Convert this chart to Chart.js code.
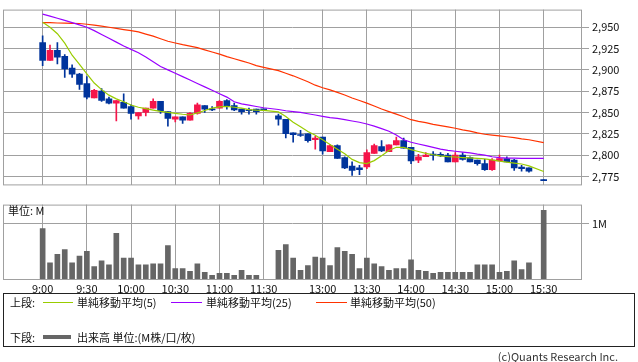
<!DOCTYPE html>
<html><head><meta charset="utf-8">
<script src="https://cdn.jsdelivr.net/npm/chart.js@4.4.1/dist/chart.umd.min.js"></script>
<style>
html,body{margin:0;padding:0;background:#fff;width:638px;height:362px;overflow:hidden;font-family:"Noto Sans CJK JP",sans-serif;}
#wrap{position:relative;width:638px;height:362px;}
canvas{position:absolute;left:0;}
#c1{top:0}
#c2{top:195px}
.t{position:absolute;font-size:11px;line-height:13px;color:#111;white-space:nowrap;}
#legend{position:absolute;left:3px;top:293px;width:630px;height:52px;border:1px solid #222;}
.ln{position:absolute;height:1px;}
</style></head>
<body><div id="wrap">
<canvas id="c1" width="638" height="195"></canvas>
<canvas id="c2" width="638" height="100"></canvas>
<div class="t" style="left:8px;top:204px;">単位: M</div>
<div id="legend"></div>
<div class="t" style="left:10px;top:296px;">上段:</div>
<div class="ln" style="left:43px;top:302px;width:30px;background:#99cc00;"></div>
<div class="t" style="left:77px;top:296px;">単純移動平均(5)</div>
<div class="ln" style="left:171px;top:302px;width:31px;background:#9900ff;"></div>
<div class="t" style="left:206px;top:296px;">単純移動平均(25)</div>
<div class="ln" style="left:316px;top:302px;width:31px;background:#ff3300;"></div>
<div class="t" style="left:350px;top:296px;">単純移動平均(50)</div>
<div class="t" style="left:10px;top:331px;">下段:</div>
<div class="ln" style="left:43px;top:335px;width:28px;height:4px;background:#666;"></div>
<div class="t" style="left:77px;top:331px;">出来高 単位:(M株/口/枚)</div>
<div class="t" style="right:20px;top:350px;color:#333;">(c)Quants Research Inc.</div>
</div>
<script>
const times = ['9:00','9:05','9:10','9:15','9:20','9:25','9:30','9:35','9:40','9:45','9:50','9:55',
 '10:00','10:05','10:10','10:15','10:20','10:25','10:30','10:35','10:40','10:45','10:50','10:55',
 '11:00','11:05','11:10','11:15','11:20','11:25','11:30',
 '12:30','12:35','12:40','12:45','12:50','12:55','13:00','13:05','13:10','13:15','13:20','13:25',
 '13:30','13:35','13:40','13:45','13:50','13:55','14:00','14:05','14:10','14:15','14:20','14:25',
 '14:30','14:35','14:40','14:45','14:50','14:55','15:00','15:05','15:10','15:15','15:20','15:30'];
const open  = [2932,2911,2923,2916,2902,2895,2884,2867,2875,2866,2861,2862,2857,2846,2850,2855,2863,2851,2842,2845,2841,2849,2858,2854,2855,2864,2858,2854,2852,2854,2854,
 2846,2842,2826,2824,2825,2818,2821,2804,2811,2797,2787,2785,2786,2802,2810,2804,2812,2817,2809,2794,2798,2801,2801,2800,2792,2800,2797,2794,2790,2783,2793,2796,2794,2786,2785,2770];
const high  = [2940,2929,2932,2918,2906,2896,2892,2877,2878,2868,2864,2872,2859,2850,2855,2866,2863,2851,2845,2845,2850,2861,2858,2857,2864,2865,2861,2854,2855,2854,2854,
 2848,2842,2826,2829,2825,2822,2821,2812,2812,2798,2792,2788,2806,2813,2817,2812,2821,2820,2809,2801,2803,2804,2803,2802,2803,2803,2798,2794,2795,2796,2800,2798,2795,2788,2785,2770];
const low   = [2905,2911,2907,2891,2891,2877,2866,2867,2863,2860,2840,2855,2842,2842,2846,2855,2849,2834,2839,2837,2841,2848,2850,2852,2855,2854,2852,2848,2848,2848,2852,
 2835,2820,2815,2822,2815,2807,2801,2804,2796,2784,2776,2777,2784,2802,2804,2804,2812,2808,2790,2791,2798,2794,2798,2792,2792,2794,2792,2788,2782,2782,2793,2792,2782,2781,2780,2770];
const close = [2911,2923,2915,2901,2895,2883,2868,2876,2864,2861,2864,2855,2849,2850,2855,2863,2852,2843,2845,2841,2849,2859,2854,2853,2863,2858,2853,2851,2852,2851,2853,
 2842,2825,2824,2823,2817,2820,2805,2811,2796,2785,2782,2783,2803,2811,2805,2812,2817,2808,2793,2798,2800,2800,2799,2792,2800,2795,2792,2790,2783,2794,2796,2792,2785,2784,2781,2770];
const sma5  = [2955.8,2950,2942.4,2931.4,2917.2,2906.3,2895.4,2884.5,2876.8,2870.3,2865.9,2862.6,2858.8,2856.1,2854.5,2852.8,2851.2,2850.1,2849,2847.9,2847,2849.5,2852.3,2855,2856.6,2857.2,2856.1,2855,2853.4,2852.8,2852.5,
 2850.6,2845.2,2838.6,2833.2,2827.7,2823.3,2817.9,2812.4,2806.9,2801.5,2794.9,2791.1,2790,2793.5,2799.3,2805.3,2809.1,2809.1,2806.4,2804.2,2802,2800.4,2799,2798.2,2797.7,2797.1,2796.6,2796,2795.5,2794.4,2792.8,2791.7,2790.6,2789.5,2787.3,2780.7];
const sma25 = [2965.3,2963,2960.5,2958,2955.5,2952.8,2950,2946,2941.5,2937,2932.5,2928,2924,2920,2915,2909.5,2904,2900,2896,2892,2888,2884,2880,2876,2872,2868,2862.5,2860,2858.5,2857,2855.5,
 2853.5,2852,2851,2850,2848.5,2847,2845.5,2844,2843,2841.5,2840,2838.5,2836.5,2834,2831,2828,2823.5,2818,2815,2813,2811,2809,2807,2805.5,2804.5,2803.5,2802.5,2801,2800,2798,2797,2796.5,2796.3,2796.2,2796,2796];
const sma50 = [2955.5,2955.3,2955,2954.8,2954.6,2954.4,2953.5,2952.5,2951.3,2950,2948.7,2947.3,2946,2944.5,2942,2939.5,2936.5,2933.6,2931.5,2929.5,2927.8,2926,2923.5,2921,2918.5,2915.5,2913,2910.5,2908,2905,2903,
 2899,2896,2893,2889.5,2886,2882,2879,2876.5,2873.6,2870.5,2867,2864,2861,2857.5,2854,2851,2848,2845,2841.5,2839.5,2838,2836,2834.5,2833,2831.5,2829.5,2828,2826,2824.4,2823.5,2822.5,2821.5,2820.5,2819,2818,2814.6];
const volume = [0.915,0.305,0.458,0.542,0.305,0.424,0.508,0.237,0.339,0.271,0.83,0.39,0.39,0.271,0.271,0.288,0.288,0.61,0.203,0.203,0.153,0.288,0.136,0.085,0.119,0.119,0.085,0.17,0.085,0.085,0.01,
 0.525,0.627,0.39,0.17,0.254,0.407,0.39,0.254,0.576,0.508,0.458,0.203,0.39,0.288,0.237,0.17,0.203,0.203,0.356,0.17,0.153,0.119,0.136,0.136,0.136,0.136,0.136,0.271,0.271,0.271,0.136,0.153,0.339,0.186,0.305,1.237];
const timeTicks = ['9:00','9:30','10:00','10:30','11:00','11:30','13:00','13:30','14:00','14:30','15:00','15:30'];
const priceTicks = [2775,2800,2825,2850,2875,2900,2925,2950];
const volumeTicks = [1];

function slotOf(t){const p=t.split(':').map(Number);const m=(p[0]-9)*60+p[1];return m<=150?m/5:32+(m-210)/5;}
const xs = times.map(slotOf);
const tickSlots = timeTicks.map(slotOf);
const slotLabel = {}; timeTicks.forEach(t=>{slotLabel[slotOf(t)]=t;});

const RED='#f5154a', BLUE='#00349c', GRID='#a0a0a0';
const XMIN=-5.38, XMAX=73.2;
Chart.defaults.font.family='"Noto Sans CJK JP", sans-serif';
Chart.defaults.font.size=11;
Chart.defaults.color='#111';

const candleColor = c => close[c.dataIndex] > open[c.dataIndex] ? RED : BLUE;
const frame = {id:'frame', afterDraw(chart){const {ctx, chartArea:a}=chart;ctx.save();ctx.strokeStyle=GRID;ctx.lineWidth=1;ctx.strokeRect(a.left+0.5,a.top+0.5,a.right-a.left-1,a.bottom-a.top-1);ctx.restore();}};

const xBase = {type:'linear', min:XMIN, max:XMAX, offset:false,
  afterBuildTicks: s => { s.ticks = tickSlots.map(v=>({value:v})); },
  grid:{color:GRID, lineWidth:1, offset:false, drawTicks:false}, border:{display:false}};

new Chart(document.getElementById('c1'), {
  type:'bar',
  data:{datasets:[
    {type:'line', data: xs.map((x,i)=>({x, y:sma5[i]})), borderColor:'#99cc00', borderWidth:1.2, pointRadius:0, order:0},
    {type:'line', data: xs.map((x,i)=>({x, y:sma25[i]})), borderColor:'#9900ff', borderWidth:1.2, pointRadius:0, order:0},
    {type:'line', data: xs.map((x,i)=>({x, y:sma50[i]})), borderColor:'#ff3300', borderWidth:1.2, pointRadius:0, order:0},
    {type:'bar', data: xs.map((x,i)=>({x, y:[open[i], close[i]]})), backgroundColor:candleColor, barThickness:6, minBarLength:1, grouped:false, order:1},
    {type:'bar', data: xs.map((x,i)=>({x, y:[low[i], high[i]]})), backgroundColor:candleColor, barThickness:1, minBarLength:1, grouped:false, order:2}
  ]},
  options:{responsive:false, animation:false, devicePixelRatio:1,
    layout:{padding:{left:3, top:1, right:0, bottom:5}},
    plugins:{legend:{display:false}, tooltip:{enabled:false}},
    scales:{
      x: Object.assign({}, xBase, {ticks:{display:false}, afterFit: s=>{s.height=0;}}),
      y: {position:'right', min:2764.4, max:2970.7,
        afterBuildTicks: s => { s.ticks = priceTicks.map(v=>({value:v})); },
        ticks:{callback: v => v.toLocaleString('en-US'), padding:3, color:'#111'},
        grid:{color:GRID, tickLength:7}, border:{display:false},
        afterFit: s=>{s.width=56;}}
    }},
  plugins:[frame]
});

new Chart(document.getElementById('c2'), {
  type:'bar',
  data:{datasets:[
    {data: xs.map((x,i)=>({x, y:volume[i]})), backgroundColor:'#666666', barThickness:5}
  ]},
  options:{responsive:false, animation:false, devicePixelRatio:1,
    layout:{padding:{left:3, top:6, right:0, bottom:0}},
    plugins:{legend:{display:false}, tooltip:{enabled:false}},
    scales:{
      x: Object.assign({}, xBase, {ticks:{autoSkip:false, maxRotation:0, padding:2, color:'#111', callback: v => slotLabel[v] || ''}, afterFit: s=>{s.height=15;}}),
      y: {position:'right', min:0, max:1.339,
        afterBuildTicks: s => { s.ticks = volumeTicks.map(v=>({value:v})); },
        ticks:{callback: v => v + 'M', padding:3, color:'#111'},
        grid:{color:GRID, tickLength:7}, border:{display:false},
        afterFit: s=>{s.width=56;}}
    }},
  plugins:[frame]
});
</script>
</body></html>
